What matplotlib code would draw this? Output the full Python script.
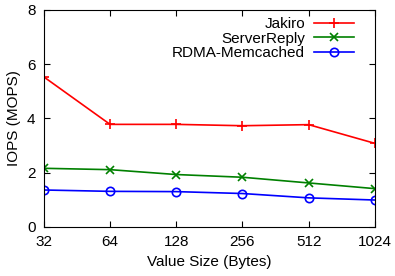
import matplotlib
matplotlib.use('Agg')
import matplotlib.pyplot as plt

sizes = ['32', '64', '128', '256', '512', '1024']
jakiro = [5.53, 3.78, 3.78, 3.73, 3.77, 3.08]
server_reply = [2.16, 2.11, 1.93, 1.83, 1.62, 1.41]
rdma_memcached = [1.36, 1.31, 1.30, 1.23, 1.07, 0.99]

plt.rcParams['font.family'] = ['Liberation Sans', 'DejaVu Sans']

fig = plt.figure(figsize=(3.95, 2.76), dpi=100)
ax = fig.add_axes([0.111, 0.178, 0.838, 0.786])

x = list(range(len(sizes)))
ax.plot(x, jakiro, color='#ff0000', marker='+', markersize=7, lw=1.2, mew=1.2, label='Jakiro')
ax.plot(x, server_reply, color='#008000', marker='x', markersize=6, lw=1.2, mew=1.2, label='ServerReply')
ax.plot(x, rdma_memcached, color='#0000ff', marker='o', markersize=6, lw=1.2, mew=1.2,
        mfc='none', label='RDMA-Memcached')

ax.set_xlim(0, 5)
ax.set_ylim(0, 8)
ax.set_xticks(x)
ax.set_xticklabels(sizes)
ax.set_yticks([0, 2, 4, 6, 8])
ax.tick_params(direction='in', top=True, right=True, labelsize=11, length=4, pad=6)
ax.set_xlabel('Value Size (Bytes)', fontsize=11)
ax.set_ylabel('IOPS (MOPS)', fontsize=11)

leg = ax.legend(loc='upper right', bbox_to_anchor=(0.965, 1.01), frameon=False,
                markerfirst=False, fontsize=11, handlelength=2.6, borderaxespad=0.2,
                labelspacing=0.05, handletextpad=0.6)
for t in leg.get_texts():
    t.set_ha('right')
leg._legend_box.align = 'right'

fig.savefig('out.png', dpi=100)
